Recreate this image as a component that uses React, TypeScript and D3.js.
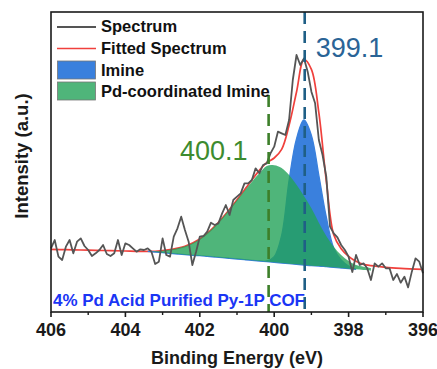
import * as d3 from 'd3';
import React from 'react';

// N 1s XPS, 4% Pd acid purified Py-1P COF

// raw spectrum, 0.1 eV step starting at 406 eV
const specStart = 406;
const specStep = 0.1;
const spectrum = [
    191, 216, 166, 156, 196, 216, 176, 211, 221, 198,
    186, 168, 176, 186, 201, 174, 168, 176, 216, 171,
    206, 201, 191, 181, 188, 186, 191, 181, 144, 151,
    221, 171, 166, 226, 251, 286, 246, 211, 141, 181,
    226, 228, 241, 268, 261, 266, 296, 321, 291, 336,
    346, 356, 386, 386, 396, 431, 416, 441, 446, 476,
    496, 541, 536, 531, 576, 696, 771, 741, 761, 721,
    661, 626, 516, 471, 406, 256, 236, 224, 201, 186,
    166, 120, 171, 141, 146, 131, 96, 146, 136, 146,
    131, 131, 96, 114, 88, 106, 74, 121, 161, 151, 116,
];

// fitted envelope
const fitEnergy = [406, 405.6, 405.2, 404.8, 404.4, 404, 403.6, 403.2, 402.8, 402.4, 402, 401.6, 401.2, 400.8,
    400.4, 400.2, 400, 399.8, 399.6, 399.4, 399.2, 399, 398.8, 398.6, 398.4, 398.2, 398, 397.8, 397.6, 397.4,
    397, 396.6, 396];
const fitTotal = [188, 187, 186, 185, 184, 183, 182, 182, 187, 197, 219, 257, 308, 366,
    425, 448, 462, 488, 560, 660, 757, 728, 598, 394, 232, 190, 167, 152, 143, 139,
    134, 131, 128];

// components, 0.2 eV step from 403.4 to 397.4 eV
const compStart = 403.4;
const compStep = 0.2;
const background = [182, 180, 178, 176, 174, 172, 170, 169, 167, 165, 163, 161, 159, 157, 155, 153,
    151, 149, 147, 145, 143, 141, 139, 138, 136, 134, 132, 130, 128, 126, 124];
const pdImine = [182, 182, 184, 187, 191, 197, 206, 219, 236, 257, 281, 308, 336, 364, 391, 416,
    438, 440, 432, 411, 382, 348, 311, 268, 228, 196, 171, 153, 141, 136, 132];
const imine = [182, 180, 178, 176, 174, 172, 170, 169, 167, 165, 163, 161, 159, 157, 155, 153,
    153, 166, 230, 395, 520, 576, 530, 410, 285, 192, 156, 138, 128, NaN, NaN];

const peakPos = [400.15, 399.18];
const peakLabels = ['400.1', '399.1'];
const xTicks = [406, 404, 402, 400, 398, 396];
const xMinor = [405, 403, 401, 399, 397];
const legendNames = ['Spectrum', 'Fitted Spectrum', 'Imine', 'Pd-coordinated Imine'];

const W = 437, H = 369;
const margin = { top: 12, right: 14, bottom: 57, left: 51 };

export default function App() {
    const x = d3.scaleLinear().domain([406, 396]).range([margin.left, W - margin.right]);
    const y = d3.scaleLinear().domain([0, 900]).range([H - margin.bottom, margin.top]);
    const plotBottom = H - margin.bottom;

    const spec = spectrum.map((v, i) => [specStart - i * specStep, v] as [number, number]);
    const total = fitEnergy.map((e, i) => [e, fitTotal[i]] as [number, number]);
    const comp = background.map((b, i) => ({ e: compStart - i * compStep, b, pd: pdImine[i], im: imine[i] }));

    const line = d3.line<[number, number]>().x(d => x(d[0])).y(d => y(d[1]));
    const smooth = d3.line<[number, number]>().x(d => x(d[0])).y(d => y(d[1])).curve(d3.curveCatmullRom.alpha(0.5));

    const imArea = d3.area<any>()
        .defined(d => !isNaN(d.im))
        .x(d => x(d.e)).y0(d => y(d.b)).y1(d => y(d.im))
        .curve(d3.curveCatmullRom.alpha(0.5));
    const pdArea = d3.area<any>()
        .x(d => x(d.e)).y0(d => y(d.b)).y1(d => y(d.pd))
        .curve(d3.curveCatmullRom.alpha(0.5));

    const font = 'Liberation Sans, Arial, sans-serif';

    return (
        <svg width={W} height={H} style={{ position: 'absolute', left: 0, top: 0, background: '#fff' }} fontFamily={font}>
            <path d={smooth(total) || ''} fill="none" stroke="#f0403c" strokeWidth={1.7} />
            <path d={imArea(comp) || ''} fill="#3a80dd" stroke="#3a80dd" strokeWidth={1.3} />
            <path d={pdArea(comp) || ''} fill="#23a359" fillOpacity={0.8} stroke="none" />
            <path d={line(spec) || ''} fill="none" stroke="#555" strokeWidth={1.8} strokeLinejoin="round" />

            {/* peak markers */}
            <line x1={x(peakPos[0])} x2={x(peakPos[0])} y1={95} y2={plotBottom} stroke="#3d7f2a" strokeWidth={2.6} strokeDasharray="12,7" />
            <line x1={x(peakPos[1])} x2={x(peakPos[1])} y1={margin.top} y2={plotBottom} stroke="#1f5f86" strokeWidth={2.6} strokeDasharray="12,7" />
            <text x={x(peakPos[0]) - 21} y={160} textAnchor="end" fontSize={27} fill="#3d8b2f">{peakLabels[0]}</text>
            <text x={x(peakPos[1]) + 11} y={57} fontSize={27} fill="#2a6496">{peakLabels[1]}</text>

            {/* legend */}
            <g fontSize={16.5} fontWeight="bold" fill="#111">
                <line x1={57} x2={96} y1={27} y2={27} stroke="#555" strokeWidth={1.8} />
                <text x={101} y={32}>{legendNames[0]}</text>
                <line x1={57} x2={96} y1={48.5} y2={48.5} stroke="#f0403c" strokeWidth={1.7} />
                <text x={101} y={54}>{legendNames[1]}</text>
                <rect x={57.5} y={61} width={38} height={18} fill="#3a80dd" stroke="#777" strokeWidth={0.8} />
                <text x={101} y={75.5}>{legendNames[2]}</text>
                <rect x={57.5} y={82} width={38} height={18} fill="#4fb57a" stroke="#777" strokeWidth={0.8} />
                <text x={101} y={97}>{legendNames[3]}</text>
            </g>

            <text x={53} y={306} fontSize={16.5} fontWeight="bold" fill="#1a35f5" textLength={252} lengthAdjust="spacingAndGlyphs">4% Pd Acid Purified Py-1P COF</text>

            {/* frame */}
            <rect x={margin.left} y={margin.top} width={W - margin.right - margin.left} height={plotBottom - margin.top}
                fill="none" stroke="#1a1a1a" strokeWidth={1.6} />
            {xTicks.map(t => (
                <g key={t}>
                    <line x1={x(t)} x2={x(t)} y1={plotBottom} y2={plotBottom + 5} stroke="#1a1a1a" strokeWidth={1.6} />
                    <text x={x(t)} y={336} textAnchor="middle" fontSize={18} fontWeight="bold" fill="#1a1a1a">{t}</text>
                </g>
            ))}
            {xMinor.map(t => (
                <line key={t} x1={x(t)} x2={x(t)} y1={plotBottom} y2={plotBottom + 3} stroke="#1a1a1a" strokeWidth={1.4} />
            ))}
            <text x={(margin.left + W - margin.right) / 2} y={364} textAnchor="middle" fontSize={18} fontWeight="bold" fill="#1a1a1a">Binding Energy (eV)</text>
            <text transform={`translate(28,${(margin.top + plotBottom) / 2 - 6}) rotate(-90)`} textAnchor="middle" fontSize={18.5} fontWeight="bold" fill="#1a1a1a">Intensity (a.u.)</text>
        </svg>
    );
}
